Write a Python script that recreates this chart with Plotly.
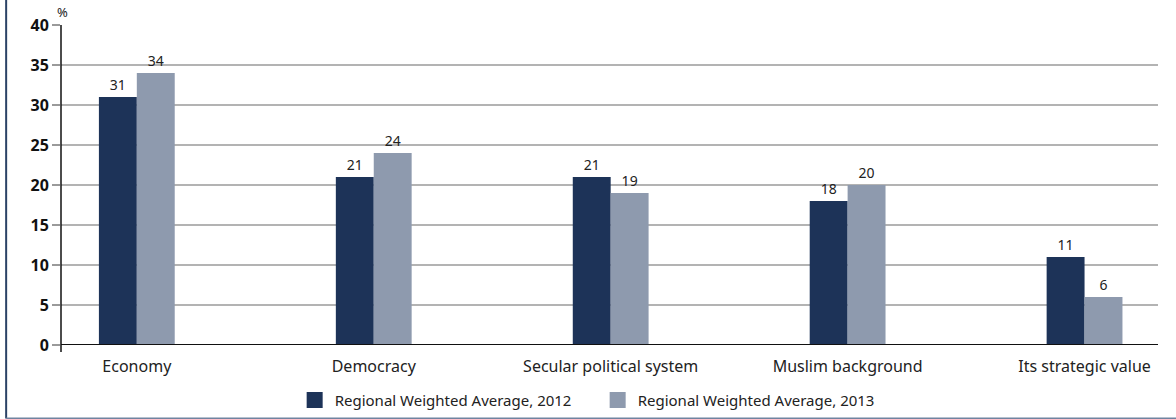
import plotly.graph_objects as go

categories = ["Economy", "Democracy", "Secular political system", "Muslim background", "Its strategic value"]
avg_2012 = [31, 21, 21, 18, 11]
avg_2013 = [34, 24, 19, 20, 6]
series_names = ["Regional Weighted Average, 2012", "Regional Weighted Average, 2013"]
y_ticks = [0, 5, 10, 15, 20, 25, 30, 35, 40]

DARK = "#1d3358"
LIGHT = "#8e9aae"
FONT = "Noto Sans"
TEXT = "#222222"

fig = go.Figure()
for name, vals, col in [(series_names[0], avg_2012, DARK), (series_names[1], avg_2013, LIGHT)]:
    fig.add_trace(go.Bar(
        x=categories, y=vals, name=name, showlegend=False,
        marker=dict(color=col, line=dict(width=0)),
        text=[str(v) for v in vals], textposition="outside", cliponaxis=False,
        textfont=dict(family=FONT, size=14, color=TEXT),
    ))
    # legend entry with a larger square swatch
    fig.add_trace(go.Scatter(
        x=[None], y=[None], mode="markers", name=name,
        marker=dict(symbol="square", size=18, color=col),
    ))

fig.update_layout(
    width=1176, height=419,
    margin=dict(l=61, r=18, t=25, b=74, autoexpand=False),
    paper_bgcolor="white", plot_bgcolor="white",
    barmode="group", bargap=0.68, bargroupgap=0,
    font=dict(family=FONT, size=15, color=TEXT),
    showlegend=True,
    legend=dict(orientation="h", x=0.213, y=0.045, yref="container",
                xanchor="left", yanchor="middle",
                font=dict(family=FONT, size=15, color=TEXT),
                itemwidth=30, entrywidth=258, bgcolor="rgba(0,0,0,0)"),
    uniformtext=dict(minsize=14, mode="show"),
)
fig.update_xaxes(
    range=[-0.32, 4.31], showgrid=False, ticks="", showline=False,
    tickfont=dict(family=FONT, size=16, color=TEXT), ticklabelstandoff=10,
)
fig.update_yaxes(
    range=[0, 40], tickvals=y_ticks, showgrid=True, gridcolor="#b3b3b3", gridwidth=1.5,
    ticks="outside", ticklen=8, tickcolor="#9a9a9a", tickwidth=1.5,
    tickfont=dict(family=FONT, size=16, color="#111111", weight="bold"),
    showline=False, zeroline=False,
)

# axis lines
fig.add_shape(type="line", xref="paper", yref="paper", x0=0, x1=0, y0=-0.022, y1=1.0,
              line=dict(color="#111111", width=1.5))
fig.add_shape(type="line", xref="paper", yref="y", x0=0, x1=1, y0=0, y1=0,
              line=dict(color="#111111", width=2))
# frame edges
fig.add_shape(type="line", xref="paper", yref="paper", x0=-0.05, x1=-0.05, y0=-0.23, y1=1.08,
              line=dict(color="#2b4266", width=2))
fig.add_shape(type="line", xref="paper", yref="paper", x0=-0.05, x1=1.02, y0=-0.23, y1=-0.23,
              line=dict(color="#7083a0", width=2))

fig.add_annotation(text="%", xref="paper", yref="paper", x=0.001, y=1.005, xanchor="center",
                   yanchor="bottom", showarrow=False, font=dict(family=FONT, size=13, color=TEXT))

fig.write_html("out.html")
